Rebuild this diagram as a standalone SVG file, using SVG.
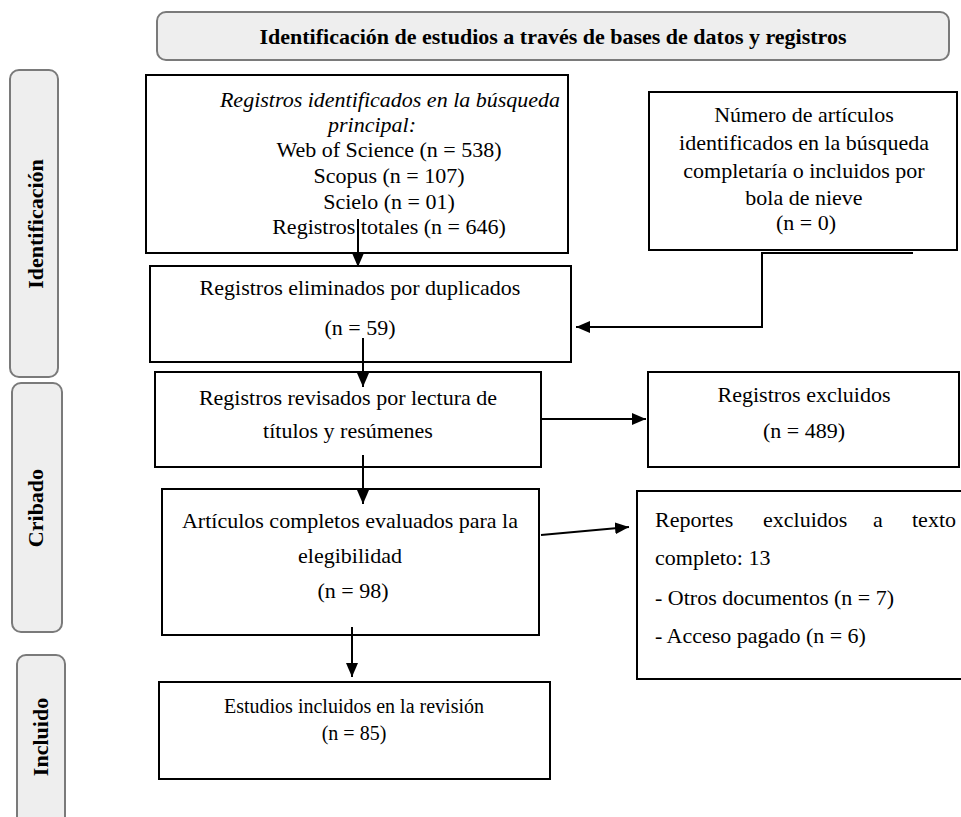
<svg xmlns="http://www.w3.org/2000/svg" width="961" height="817" viewBox="0 0 961 817">
<style>
.phase{fill:#eeeeee;stroke:#7a7a7a;stroke-width:2}
.box{fill:#ffffff;stroke:#000000;stroke-width:2}
.t{font-family:"Liberation Serif","Times New Roman",serif;font-size:22px;fill:#000}
.c{text-anchor:middle}
.b{font-weight:bold}
.i{font-style:italic}
.conn{fill:none;stroke:#000;stroke-width:2}
</style>
<defs>
<marker id="arr" markerUnits="userSpaceOnUse" markerWidth="14" markerHeight="12" refX="14" refY="6" orient="auto">
<path d="M0,0 L14,6 L0,12 z" fill="#000"/>
</marker>
</defs>
<rect width="961" height="817" fill="#ffffff"/>

<g id="header">
<rect class="phase" x="157" y="12" width="792" height="48" rx="9"/>
<text class="t c b" x="553" y="44">Identificación de estudios a través de bases de datos y registros</text>
</g>

<g id="phase-identificacion">
<rect class="phase" x="10" y="70" width="48" height="307" rx="9"/>
<text class="t c b" transform="translate(43,224) rotate(-90)">Identificación</text>
</g>
<g id="phase-cribado">
<rect class="phase" x="12" y="383" width="50" height="249" rx="9"/>
<text class="t c b" transform="translate(43,508) rotate(-90)">Cribado</text>
</g>
<g id="phase-incluido">
<rect class="phase" x="17" y="655" width="48" height="190" rx="9"/>
<text class="t c b" transform="translate(48,737) rotate(-90)">Incluido</text>
</g>

<g id="box-registros-identificados">
<rect class="box" x="146" y="75" width="422" height="178"/>
<text class="t c i" x="390" y="107">Registros identificados en la búsqueda</text>
<text class="t c i" x="372" y="132">principal:</text>
<text class="t c" x="389" y="157">Web of Science (n = 538)</text>
<text class="t c" x="389" y="183">Scopus (n = 107)</text>
<text class="t c" x="389" y="209">Scielo (n = 01)</text>
<text class="t c" x="389" y="234">Registros totales (n = 646)</text>
</g>

<g id="box-numero-articulos">
<rect class="box" x="649" y="92" width="308" height="158"/>
<text class="t c" x="804" y="122">Número de artículos</text>
<text class="t c" x="804" y="150">identificados en la búsqueda</text>
<text class="t c" x="804" y="178">completaría o incluidos por</text>
<text class="t c" x="804" y="205">bola de nieve</text>
<text class="t c" x="806" y="230">(n = 0)</text>
</g>

<g id="box-duplicados">
<rect class="box" x="150" y="266" width="421" height="96"/>
<text class="t c" x="360" y="295">Registros eliminados por duplicados</text>
<text class="t c" x="360" y="335">(n = 59)</text>
</g>

<g id="box-revisados">
<rect class="box" x="155" y="372" width="386" height="95"/>
<text class="t c" x="348" y="405">Registros revisados por lectura de</text>
<text class="t c" x="348" y="438">títulos y resúmenes</text>
</g>

<g id="box-excluidos">
<rect class="box" x="648" y="372" width="311" height="95"/>
<text class="t c" x="804" y="402">Registros excluidos</text>
<text class="t c" x="804" y="438">(n = 489)</text>
</g>

<g id="box-completos">
<rect class="box" x="162" y="489" width="377" height="146"/>
<text class="t c" x="350" y="528">Artículos completos evaluados para la</text>
<text class="t c" x="350" y="563">elegibilidad</text>
<text class="t c" x="353" y="598">(n = 98)</text>
</g>

<g id="box-reportes">
<rect class="box" x="637" y="491" width="330" height="188"/>
<text class="t" y="527"><tspan x="655">Reportes</tspan><tspan x="763">excluidos</tspan><tspan x="873">a</tspan><tspan x="912">texto</tspan></text>
<text class="t" x="655" y="565">completo: 13</text>
<text class="t" x="655" y="605">- Otros documentos (n = 7)</text>
<text class="t" x="655" y="643">- Acceso pagado (n = 6)</text>
</g>

<g id="box-incluidos">
<rect class="box" x="159" y="682" width="391" height="97"/>
<text class="t c" x="354" y="713" style="font-size:20px">Estudios incluidos en la revisión</text>
<text class="t c" x="354" y="740" style="font-size:20px">(n = 85)</text>
</g>

<g id="connectors">
<line class="conn" x1="358" y1="219" x2="358" y2="267" marker-end="url(#arr)"/>
<line class="conn" x1="363" y1="338" x2="363" y2="387" marker-end="url(#arr)"/>
<line class="conn" x1="363" y1="455" x2="363" y2="504" marker-end="url(#arr)"/>
<line class="conn" x1="352" y1="627" x2="352" y2="677" marker-end="url(#arr)"/>
<line class="conn" x1="542" y1="419" x2="646" y2="419" marker-end="url(#arr)"/>
<line class="conn" x1="541" y1="535" x2="629" y2="527" marker-end="url(#arr)"/>
<polyline class="conn" points="913,253 762,253 762,327 576,327" marker-end="url(#arr)"/>
</g>
</svg>
